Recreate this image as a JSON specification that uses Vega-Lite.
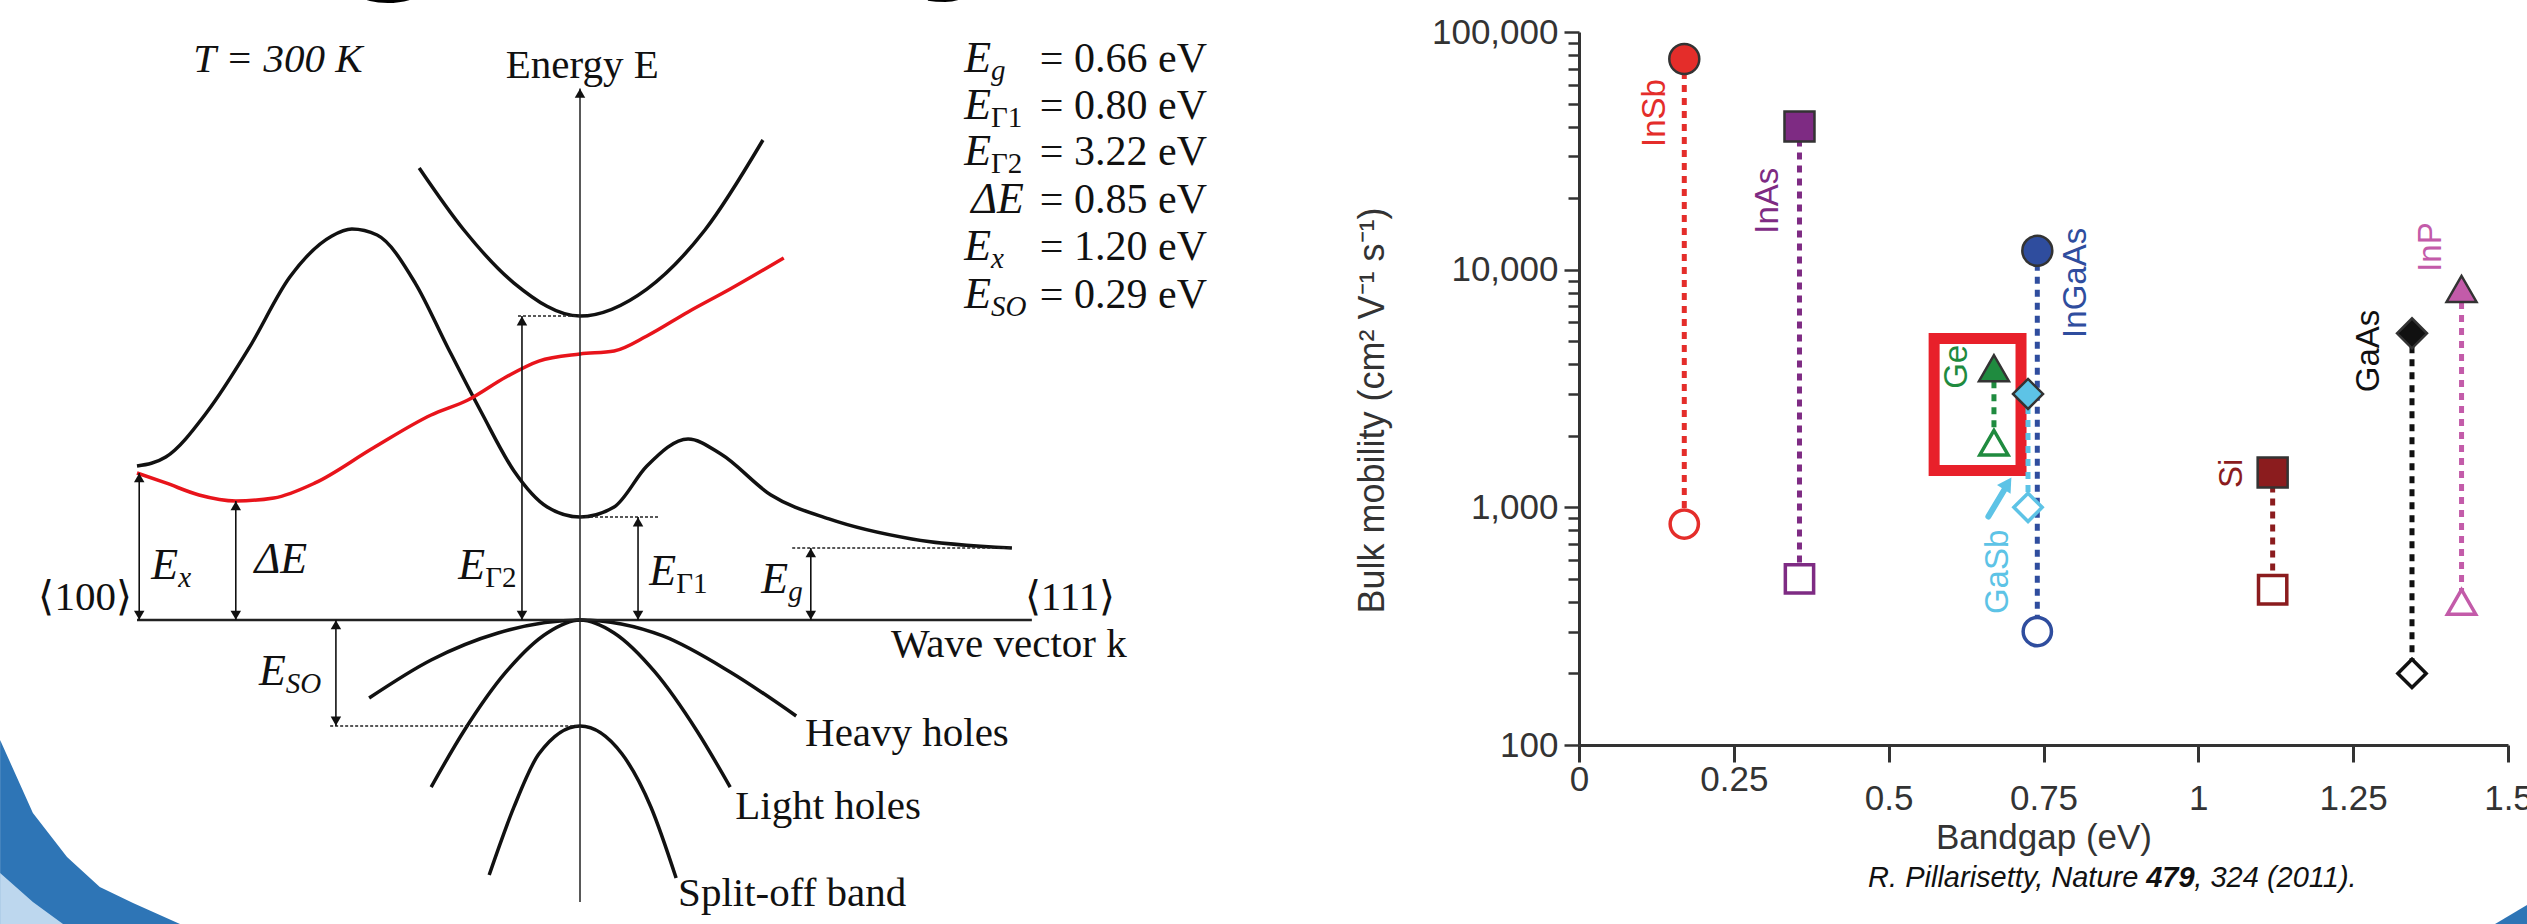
{
  "$schema": "https://vega.github.io/schema/vega-lite/v6.json",
  "width": 2527,
  "height": 924,
  "padding": 0,
  "autosize": {"type": "none"},
  "background": "white",
  "config": {"view": {"stroke": null}},
  "datasets": {
    "conn": [
      {"material": "InSb", "gap": 0.17, "mob": 77000, "mob2": 850},
      {"material": "InAs", "gap": 0.356, "mob": 40000, "mob2": 500},
      {"material": "InGaAs", "gap": 0.74, "mob": 12000, "mob2": 300},
      {"material": "Ge", "gap": 0.67, "mob": 3850, "mob2": 1870},
      {"material": "GaSb", "gap": 0.725, "mob": 3000, "mob2": 1000},
      {"material": "Si", "gap": 1.12, "mob": 1400, "mob2": 450},
      {"material": "GaAs", "gap": 1.345, "mob": 5400, "mob2": 200},
      {"material": "InP", "gap": 1.425, "mob": 8300, "mob2": 400}
    ],
    "filledPts": [
      {"material": "InSb", "gap": 0.17, "mob": 77000},
      {"material": "InAs", "gap": 0.356, "mob": 40000},
      {"material": "InGaAs", "gap": 0.74, "mob": 12000},
      {"material": "Ge", "gap": 0.67, "mob": 3850},
      {"material": "GaSb", "gap": 0.725, "mob": 3000},
      {"material": "Si", "gap": 1.12, "mob": 1400},
      {"material": "GaAs", "gap": 1.345, "mob": 5400},
      {"material": "InP", "gap": 1.425, "mob": 8300}
    ],
    "openPts": [
      {"material": "InSb", "gap": 0.17, "mob": 850},
      {"material": "InAs", "gap": 0.356, "mob": 500},
      {"material": "InGaAs", "gap": 0.74, "mob": 300},
      {"material": "Ge", "gap": 0.67, "mob": 1870},
      {"material": "GaSb", "gap": 0.725, "mob": 1000},
      {"material": "Si", "gap": 1.12, "mob": 450},
      {"material": "GaAs", "gap": 1.345, "mob": 200},
      {"material": "InP", "gap": 1.425, "mob": 400}
    ],
    "mlabels": [
      {"material": "InSb", "gap": 0.123, "mob": 45600},
      {"material": "InAs", "gap": 0.305, "mob": 19500},
      {"material": "InGaAs", "gap": 0.803, "mob": 8800},
      {"material": "Ge", "gap": 0.611, "mob": 3900},
      {"material": "GaSb", "gap": 0.676, "mob": 535},
      {"material": "Si", "gap": 1.055, "mob": 1390},
      {"material": "GaAs", "gap": 1.276, "mob": 4550},
      {"material": "InP", "gap": 1.376, "mob": 12450}
    ],
    "box": [{"gap": 0.5734, "gap2": 0.7137, "mob": 5130, "mob2": 1429}],
    "arrowLine": [{"gap": 0.661, "gap2": 0.688, "mob": 915, "mob2": 1200}],
    "arrowHead": [{"gap": 0.692, "mob": 1260}],
    "cite": [{"gap": 0.9548, "mob": 27.56}],
    "bands": [
      {"band": "cond", "k": -1.0, "E": 1.283},
      {"band": "cond", "k": -0.935, "E": 1.358},
      {"band": "cond", "k": -0.842, "E": 1.733},
      {"band": "cond", "k": -0.747, "E": 2.267},
      {"band": "cond", "k": -0.655, "E": 2.858},
      {"band": "cond", "k": -0.56, "E": 3.2},
      {"band": "cond", "k": -0.515, "E": 3.258},
      {"band": "cond", "k": -0.458, "E": 3.208},
      {"band": "cond", "k": -0.372, "E": 2.808},
      {"band": "cond", "k": -0.298, "E": 2.267},
      {"band": "cond", "k": -0.223, "E": 1.733},
      {"band": "cond", "k": -0.149, "E": 1.242},
      {"band": "cond", "k": -0.074, "E": 0.942},
      {"band": "cond", "k": 0.0, "E": 0.858},
      {"band": "cond", "k": 0.077, "E": 0.942},
      {"band": "cond", "k": 0.151, "E": 1.283},
      {"band": "cond", "k": 0.244, "E": 1.508},
      {"band": "cond", "k": 0.318, "E": 1.383},
      {"band": "cond", "k": 0.431, "E": 1.042},
      {"band": "cond", "k": 0.562, "E": 0.842},
      {"band": "cond", "k": 0.749, "E": 0.675},
      {"band": "cond", "k": 0.975, "E": 0.6},
      {"band": "gamma2", "k": -0.363, "E": 3.767},
      {"band": "gamma2", "k": -0.262, "E": 3.25},
      {"band": "gamma2", "k": -0.149, "E": 2.808},
      {"band": "gamma2", "k": 0.0, "E": 2.533},
      {"band": "gamma2", "k": 0.151, "E": 2.758},
      {"band": "gamma2", "k": 0.282, "E": 3.25},
      {"band": "gamma2", "k": 0.413, "E": 4.0},
      {"band": "red", "k": -1.0, "E": 1.225},
      {"band": "red", "k": -0.935, "E": 1.142},
      {"band": "red", "k": -0.86, "E": 1.042},
      {"band": "red", "k": -0.777, "E": 0.992},
      {"band": "red", "k": -0.691, "E": 1.017},
      {"band": "red", "k": -0.598, "E": 1.142},
      {"band": "red", "k": -0.467, "E": 1.433},
      {"band": "red", "k": -0.336, "E": 1.708},
      {"band": "red", "k": -0.253, "E": 1.833},
      {"band": "red", "k": -0.167, "E": 2.025},
      {"band": "red", "k": -0.093, "E": 2.158},
      {"band": "red", "k": 0.0, "E": 2.217},
      {"band": "red", "k": 0.077, "E": 2.242},
      {"band": "red", "k": 0.151, "E": 2.367},
      {"band": "red", "k": 0.244, "E": 2.567},
      {"band": "red", "k": 0.339, "E": 2.758},
      {"band": "red", "k": 0.46, "E": 3.017},
      {"band": "heavy", "k": -0.476, "E": -0.65},
      {"band": "heavy", "k": -0.336, "E": -0.333},
      {"band": "heavy", "k": -0.185, "E": -0.108},
      {"band": "heavy", "k": 0.0, "E": 0.0},
      {"band": "heavy", "k": 0.187, "E": -0.133},
      {"band": "heavy", "k": 0.339, "E": -0.433},
      {"band": "heavy", "k": 0.488, "E": -0.8},
      {"band": "light", "k": -0.336, "E": -1.392},
      {"band": "light", "k": -0.262, "E": -0.925},
      {"band": "light", "k": -0.167, "E": -0.433},
      {"band": "light", "k": -0.074, "E": -0.108},
      {"band": "light", "k": 0.0, "E": 0.0},
      {"band": "light", "k": 0.077, "E": -0.108},
      {"band": "light", "k": 0.169, "E": -0.433},
      {"band": "light", "k": 0.264, "E": -0.925},
      {"band": "light", "k": 0.339, "E": -1.392},
      {"band": "split", "k": -0.205, "E": -2.125},
      {"band": "split", "k": -0.149, "E": -1.558},
      {"band": "split", "k": -0.093, "E": -1.117},
      {"band": "split", "k": 0.0, "E": -0.883},
      {"band": "split", "k": 0.095, "E": -1.117},
      {"band": "split", "k": 0.16, "E": -1.558},
      {"band": "split", "k": 0.217, "E": -2.15}
    ],
    "axisLines": [
      {"line": "k", "k": -1.0, "E": 0, "k2": 1.02, "E2": 0},
      {"line": "E", "k": 0, "E": -2.35, "k2": 0, "E2": 4.43}
    ],
    "dashes": [
      {"k": -0.14, "E": 2.533, "k2": 0, "E2": 2.533},
      {"k": 0, "E": 0.858, "k2": 0.178, "E2": 0.858},
      {"k": 0.479, "E": 0.6, "k2": 0.975, "E2": 0.6},
      {"k": -0.564, "E": -0.883, "k2": 0, "E2": -0.883}
    ],
    "shafts": [
      {"k": -0.995, "E": 0, "k2": -0.995, "E2": 1.225},
      {"k": -0.777, "E": 0, "k2": -0.777, "E2": 0.992},
      {"k": -0.131, "E": 0, "k2": -0.131, "E2": 2.533},
      {"k": 0.131, "E": 0, "k2": 0.131, "E2": 0.858},
      {"k": 0.521, "E": 0, "k2": 0.521, "E2": 0.6},
      {"k": -0.551, "E": 0, "k2": -0.551, "E2": -0.883}
    ],
    "heads": [
      {"k": -0.995, "E": 1.185, "dir": "up"}, {"k": -0.995, "E": 0.04, "dir": "down"},
      {"k": -0.777, "E": 0.952, "dir": "up"}, {"k": -0.777, "E": 0.04, "dir": "down"},
      {"k": -0.131, "E": 2.493, "dir": "up"}, {"k": -0.131, "E": 0.04, "dir": "down"},
      {"k": 0.131, "E": 0.818, "dir": "up"}, {"k": 0.131, "E": 0.04, "dir": "down"},
      {"k": 0.521, "E": 0.56, "dir": "up"}, {"k": 0.521, "E": 0.04, "dir": "down"},
      {"k": -0.551, "E": -0.04, "dir": "up"}, {"k": -0.551, "E": -0.843, "dir": "down"},
      {"k": 0, "E": 4.39, "dir": "up"}
    ],
    "plainText": [
      {"t": "Energy E", "k": 0.005, "E": 4.62},
      {"t": "Wave vector k", "k": 0.968, "E": -0.208},
      {"t": "Heavy holes", "k": 0.738, "E": -0.95},
      {"t": "Light holes", "k": 0.56, "E": -1.558},
      {"t": "Split-off band", "k": 0.479, "E": -2.283},
      {"t": "⟨100⟩", "k": -1.117, "E": 0.183},
      {"t": "⟨111⟩", "k": 1.106, "E": 0.183}
    ],
    "mathMain": [
      {"t": "E", "k": -0.907, "E": 0.45},
      {"t": "ΔE", "k": -0.616, "E": 0.5},
      {"t": "E", "k": -0.214, "E": 0.45},
      {"t": "E", "k": 0.217, "E": 0.4},
      {"t": "E", "k": 0.47, "E": 0.333},
      {"t": "E", "k": -0.664, "E": -0.433},
      {"t": "E", "k": 0.928, "E": 4.675},
      {"t": "E", "k": 0.928, "E": 4.283},
      {"t": "E", "k": 0.928, "E": 3.9},
      {"t": "ΔE", "k": 1.002, "E": 3.5},
      {"t": "E", "k": 0.928, "E": 3.108},
      {"t": "E", "k": 0.928, "E": 2.708}
    ],
    "mathSubItalic": [
      {"t": "x", "k": -0.907, "E": 0.45},
      {"t": "g", "k": 0.47, "E": 0.333},
      {"t": "SO", "k": -0.664, "E": -0.433},
      {"t": "g", "k": 0.928, "E": 4.675},
      {"t": "x", "k": 0.928, "E": 3.108},
      {"t": "SO", "k": 0.928, "E": 2.708}
    ],
    "mathSubUpright": [
      {"t": "Γ2", "k": -0.214, "E": 0.45},
      {"t": "Γ1", "k": 0.217, "E": 0.4},
      {"t": "Γ1", "k": 0.928, "E": 4.283},
      {"t": "Γ2", "k": 0.928, "E": 3.9}
    ],
    "eqRhs": [
      {"t": "= 0.66 eV", "k": 1.038, "E": 4.675},
      {"t": "= 0.80 eV", "k": 1.038, "E": 4.283},
      {"t": "= 3.22 eV", "k": 1.038, "E": 3.9},
      {"t": "= 0.85 eV", "k": 1.038, "E": 3.5},
      {"t": "= 1.20 eV", "k": 1.038, "E": 3.108},
      {"t": "= 0.29 eV", "k": 1.038, "E": 2.708}
    ],
    "temp": [{"t": "T = 300 K", "k": -0.682, "E": 4.667}],
    "titleFrag": [
      {"t": "g", "k": -0.566, "E": 5.5},
      {"t": "y", "k": 0.762, "E": 5.5}
    ],
    "decoDark": [
      {"part": "a", "k": -1.309, "E": -1.0, "E2": -2.8},
      {"part": "a", "k": -1.235, "E": -1.608, "E2": -2.8},
      {"part": "a", "k": -1.158, "E": -1.975, "E2": -2.8},
      {"part": "a", "k": -1.084, "E": -2.225, "E2": -2.8},
      {"part": "a", "k": -1.009, "E": -2.358, "E2": -2.8},
      {"part": "a", "k": -0.903, "E": -2.533, "E2": -2.8},
      {"part": "a", "k": -0.83, "E": -2.7, "E2": -2.8},
      {"part": "b", "k": 4.323, "E": -2.533, "E2": -2.8},
      {"part": "b", "k": 4.395, "E": -2.375, "E2": -2.8}
    ],
    "decoLight": [
      {"k": -1.309, "E": -2.108, "E2": -2.8},
      {"k": -1.235, "E": -2.35, "E2": -2.8},
      {"k": -1.167, "E": -2.533, "E2": -2.8},
      {"k": -1.12, "E": -2.7, "E2": -2.8}
    ]
  },
  "resolve": {
    "scale": {"x": "independent", "y": "independent", "color": "independent", "shape": "independent", "strokeWidth": "independent"},
    "axis": {"x": "independent", "y": "independent"}
  },
  "layer": [
    {
      "encoding": {
        "x": {
          "field": "gap", "type": "quantitative",
          "scale": {"domain": [0, 1.5], "range": [1579, 2508], "nice": false, "zero": false},
          "axis": {
            "orient": "bottom", "offset": -179,
            "values": [0, 0.25, 0.5, 0.75, 1, 1.25, 1.5],
            "labelExpr": "datum.value < 0.4 ? datum.value + '' : ['', datum.value + '']",
            "labelLineHeight": 19,
            "title": "Bandgap (eV)",
            "grid": false, "labelFlush": false, "labelOverlap": false,
            "domainColor": "#333", "domainWidth": 3,
            "tickColor": "#333", "tickWidth": 3, "tickSize": 17,
            "labelFont": "Liberation Sans", "labelFontSize": 35, "labelColor": "#333",
            "labelPadding": 0, "labelBaseline": "top",
            "titleFont": "Liberation Sans", "titleFontSize": 35, "titleFontWeight": "normal", "titleColor": "#333",
            "titlePadding": 4
          }
        },
        "y": {
          "field": "mob", "type": "quantitative",
          "scale": {"type": "log", "domain": [100, 100000], "range": [745, 32], "nice": false},
          "axis": {
            "orient": "left", "offset": -1579,
            "values": [100, 200, 300, 400, 500, 600, 700, 800, 900, 1000, 2000, 3000, 4000, 5000, 6000, 7000, 8000, 9000, 10000, 20000, 30000, 40000, 50000, 60000, 70000, 80000, 90000, 100000],
            "labelExpr": "indexof([100, 1000, 10000, 100000], datum.value) >= 0 ? format(datum.value, ',') : ''",
            "tickSize": {"condition": {"test": "indexof([100, 1000, 10000, 100000], datum.value) >= 0", "value": 15}, "value": 11},
            "title": "Bulk mobility (cm² V⁻¹ s⁻¹)",
            "grid": false, "labelFlush": false, "labelOverlap": false,
            "domainColor": "#333", "domainWidth": 3,
            "tickColor": "#333", "tickWidth": 2.5,
            "labelFont": "Liberation Sans", "labelFontSize": 35, "labelColor": "#333", "labelPadding": 6,
            "titleFont": "Liberation Sans", "titleFontSize": 36, "titleFontWeight": "normal", "titleColor": "#333",
            "titlePadding": 40, "titleY": 410
          }
        }
      },
      "layer": [
        {
          "data": {"name": "box"},
          "mark": {"type": "rect", "fill": "white", "fillOpacity": 0, "stroke": "#E8202A", "strokeWidth": 11},
          "encoding": {"x2": {"field": "gap2"}, "y2": {"field": "mob2"}}
        },
        {
          "data": {"name": "conn"},
          "mark": {"type": "rule", "strokeWidth": 5, "strokeDash": [7, 6]},
          "encoding": {
            "y2": {"field": "mob2"},
            "color": {"field": "material", "type": "nominal", "legend": null,
              "scale": {"domain": ["InSb", "InAs", "InGaAs", "Ge", "GaSb", "Si", "GaAs", "InP"],
                        "range": ["#E42D2A", "#7E2B83", "#2F4D9E", "#1F8B3F", "#5DC3E6", "#8B1C1E", "#111111", "#C35BA9"]}}
          }
        },
        {
          "data": {"name": "arrowLine"},
          "mark": {"type": "rule", "strokeWidth": 6, "color": "#5DC3E6", "strokeCap": "round"},
          "encoding": {"x2": {"field": "gap2"}, "y2": {"field": "mob2"}}
        },
        {
          "data": {"name": "arrowHead"},
          "mark": {"type": "point", "shape": "triangle-up", "filled": true, "color": "#5DC3E6", "size": 260, "angle": 33, "opacity": 1}
        },
        {
          "data": {"name": "openPts"},
          "mark": {"type": "point", "filled": false, "fill": "white", "fillOpacity": 1, "strokeWidth": 3.5, "size": 800, "opacity": 1},
          "encoding": {
            "color": {"field": "material", "type": "nominal", "legend": null,
              "scale": {"domain": ["InSb", "InAs", "InGaAs", "Ge", "GaSb", "Si", "GaAs", "InP"],
                        "range": ["#E42D2A", "#7E2B83", "#2F4D9E", "#1F8B3F", "#5DC3E6", "#8B1C1E", "#111111", "#C35BA9"]}},
            "shape": {"field": "material", "type": "nominal", "legend": null,
              "scale": {"domain": ["InSb", "InAs", "InGaAs", "Ge", "GaSb", "Si", "GaAs", "InP"],
                        "range": ["circle", "square", "circle", "triangle-up", "diamond", "square", "diamond", "triangle-up"]}}
          }
        },
        {
          "data": {"name": "filledPts"},
          "mark": {"type": "point", "filled": true, "stroke": "#333333", "strokeWidth": 2.5, "size": 900, "opacity": 1},
          "encoding": {
            "color": {"field": "material", "type": "nominal", "legend": null,
              "scale": {"domain": ["InSb", "InAs", "InGaAs", "Ge", "GaSb", "Si", "GaAs", "InP"],
                        "range": ["#E32227", "#7A1D79", "#2B4A9C", "#1C8A3C", "#4FBFCF", "#8A1B1B", "#111111", "#BE5AA8"]}},
            "shape": {"field": "material", "type": "nominal", "legend": null,
              "scale": {"domain": ["InSb", "InAs", "InGaAs", "Ge", "GaSb", "Si", "GaAs", "InP"],
                        "range": ["circle", "square", "circle", "triangle-up", "diamond", "square", "diamond", "triangle-up"]}}
          }
        },
        {
          "data": {"name": "mlabels"},
          "mark": {"type": "text", "angle": 270, "align": "center", "baseline": "middle", "font": "Liberation Sans", "fontSize": 33},
          "encoding": {
            "text": {"field": "material"},
            "color": {"field": "material", "type": "nominal", "legend": null,
              "scale": {"domain": ["InSb", "InAs", "InGaAs", "Ge", "GaSb", "Si", "GaAs", "InP"],
                        "range": ["#E42D2A", "#7E2B83", "#2F4D9E", "#1F8B3F", "#5DC3E6", "#8B1C1E", "#111111", "#C35BA9"]}}
          }
        },
        {
          "data": {"name": "cite"},
          "mark": {"type": "text", "align": "right", "baseline": "middle", "dx": -32, "font": "Liberation Sans", "fontStyle": "italic", "fontSize": 29, "color": "#111"},
          "encoding": {"text": {"value": "R. Pillarisetty, Nature"}}
        },
        {
          "data": {"name": "cite"},
          "mark": {"type": "text", "align": "center", "baseline": "middle", "font": "Liberation Sans", "fontStyle": "italic", "fontWeight": "bold", "fontSize": 29, "color": "#111"},
          "encoding": {"text": {"value": "479"}}
        },
        {
          "data": {"name": "cite"},
          "mark": {"type": "text", "align": "left", "baseline": "middle", "dx": 24, "font": "Liberation Sans", "fontStyle": "italic", "fontSize": 29, "color": "#111"},
          "encoding": {"text": {"value": ", 324 (2011)."}}
        }
      ]
    },
    {
      "encoding": {
        "x": {"field": "k", "type": "quantitative", "scale": {"domain": [-1, 1], "range": [137, 1023], "nice": false, "zero": false}, "axis": null},
        "y": {"field": "E", "type": "quantitative", "scale": {"domain": [0, 5], "range": [620, 20], "nice": false, "zero": false}, "axis": null}
      },
      "layer": [
        {
          "data": {"name": "decoDark"},
          "mark": {"type": "area", "color": "#2E75B6", "opacity": 1},
          "encoding": {"y2": {"field": "E2"}, "detail": {"field": "part"}}
        },
        {
          "data": {"name": "decoLight"},
          "mark": {"type": "area", "color": "#BDD7EE", "opacity": 1},
          "encoding": {"y2": {"field": "E2"}}
        },
        {
          "data": {"name": "titleFrag"},
          "mark": {"type": "text", "align": "left", "baseline": "alphabetic", "font": "Liberation Sans", "fontWeight": "bold", "fontSize": 200, "color": "#000"},
          "encoding": {"text": {"field": "t"}}
        },
        {
          "data": {"name": "bands"},
          "mark": {"type": "line", "interpolate": "monotone", "strokeWidth": 3.5},
          "encoding": {
            "detail": {"field": "band"},
            "color": {"field": "band", "type": "nominal", "legend": null,
              "scale": {"domain": ["cond", "gamma2", "heavy", "light", "split", "red"], "range": ["#111111", "#111111", "#111111", "#111111", "#111111", "#E8141B"]}}
          }
        },
        {
          "data": {"name": "axisLines"},
          "mark": {"type": "rule", "color": "#222222"},
          "encoding": {
            "x2": {"field": "k2"}, "y2": {"field": "E2"},
            "strokeWidth": {"field": "line", "type": "nominal", "legend": null, "scale": {"domain": ["k", "E"], "range": [2.5, 1.5]}}
          }
        },
        {
          "data": {"name": "dashes"},
          "mark": {"type": "rule", "color": "#222222", "strokeWidth": 1.5, "strokeDash": [3, 2]},
          "encoding": {"x2": {"field": "k2"}, "y2": {"field": "E2"}}
        },
        {
          "data": {"name": "shafts"},
          "mark": {"type": "rule", "color": "#111111", "strokeWidth": 1.6},
          "encoding": {"x2": {"field": "k2"}, "y2": {"field": "E2"}}
        },
        {
          "data": {"name": "heads"},
          "mark": {"type": "point", "filled": true, "color": "#111111", "size": 110, "opacity": 1},
          "encoding": {
            "shape": {"field": "dir", "type": "nominal", "legend": null, "scale": {"domain": ["up", "down"], "range": ["triangle-up", "triangle-down"]}}
          }
        },
        {
          "data": {"name": "plainText"},
          "mark": {"type": "text", "align": "center", "baseline": "middle", "font": "Liberation Serif", "fontSize": 41, "color": "#111"},
          "encoding": {"text": {"field": "t"}}
        },
        {
          "data": {"name": "temp"},
          "mark": {"type": "text", "align": "center", "baseline": "middle", "font": "Liberation Serif", "fontStyle": "italic", "fontSize": 41, "color": "#111"},
          "encoding": {"text": {"field": "t"}}
        },
        {
          "data": {"name": "mathMain"},
          "mark": {"type": "text", "align": "right", "baseline": "middle", "font": "Liberation Serif", "fontStyle": "italic", "fontSize": 44, "color": "#111"},
          "encoding": {"text": {"field": "t"}}
        },
        {
          "data": {"name": "mathSubItalic"},
          "mark": {"type": "text", "align": "left", "baseline": "middle", "dy": 12, "font": "Liberation Serif", "fontStyle": "italic", "fontSize": 29, "color": "#111"},
          "encoding": {"text": {"field": "t"}}
        },
        {
          "data": {"name": "mathSubUpright"},
          "mark": {"type": "text", "align": "left", "baseline": "middle", "dy": 12, "font": "Liberation Serif", "fontSize": 29, "color": "#111"},
          "encoding": {"text": {"field": "t"}}
        },
        {
          "data": {"name": "eqRhs"},
          "mark": {"type": "text", "align": "left", "baseline": "middle", "font": "Liberation Serif", "fontSize": 42, "color": "#111"},
          "encoding": {"text": {"field": "t"}}
        }
      ]
    }
  ]
}
